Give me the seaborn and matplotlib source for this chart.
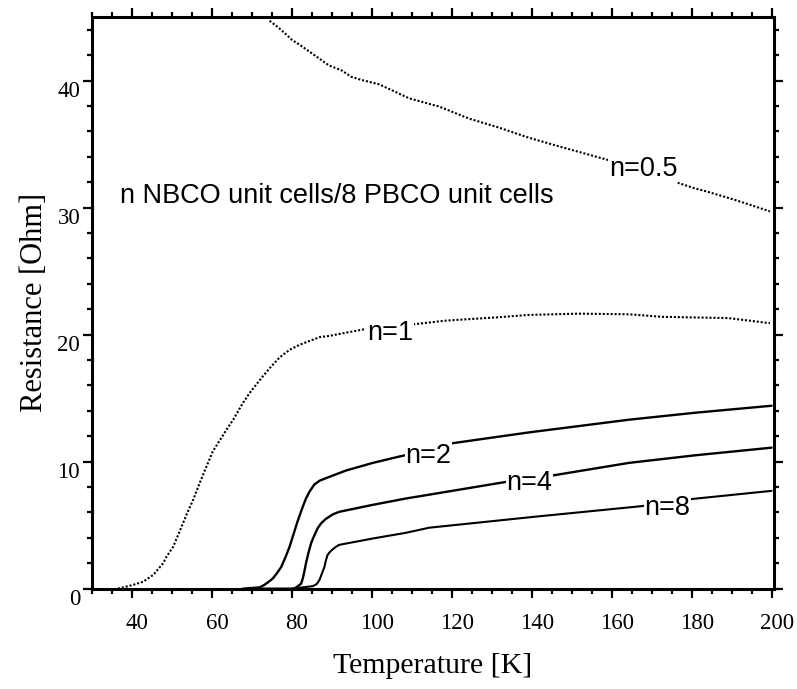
import matplotlib
matplotlib.use("Agg")
import matplotlib.pyplot as plt
import matplotlib.transforms as mtransforms
from matplotlib.ticker import MultipleLocator
import numpy as np
import pandas as pd
import seaborn as sns

# Resistance vs temperature for NBCO/PBCO superlattices
T_05 = [74.4, 76.5, 78.3, 80.0, 82.0, 83.8, 85.6, 89.2, 92.4, 94.8, 97.3, 99.3,
        101.8, 109.3, 116.8, 124.3, 131.7, 139.2, 147.5, 158.4, 167.8, 174.1,
        180.8, 183.3, 190.8, 199.5]
R_05 = [44.7, 44.2, 43.7, 43.2, 42.8, 42.4, 42.0, 41.2, 40.8, 40.3, 40.05, 39.9,
        39.7, 38.6, 37.95, 37.0, 36.3, 35.5, 34.75, 33.8, 33.05, 32.2,
        31.5, 31.3, 30.6, 29.7]

T_1 = [36.5, 40.3, 42.8, 45.3, 47.8, 48.6, 50.3, 51.9, 53.6, 55.3, 56.9, 58.6,
       60.2, 62.0, 63.6, 65.3, 67.7, 69.4, 71.9, 74.4, 76.9, 79.4, 81.9, 84.4,
       86.9, 89.4, 91.8, 97.7, 104.5, 110.1, 118.4, 130.9, 139.2, 151.7,
       164.2, 172.5, 180.8, 189.1, 199.5]
R_1 = [0.0, 0.3, 0.55, 1.08, 2.0, 2.5, 3.3, 4.5, 5.8, 7.0, 8.3, 9.6,
       10.8, 11.7, 12.5, 13.3, 14.6, 15.4, 16.4, 17.35, 18.2, 18.8, 19.2, 19.5,
       19.8, 19.9, 20.05, 20.4, 20.6, 20.8, 21.1, 21.35, 21.55, 21.65,
       21.6, 21.4, 21.35, 21.3, 20.9]

T_2 = [67.7, 71.9, 73.1, 74.0, 75.2, 76.2, 77.3, 78.4, 79.4, 80.4, 81.4, 82.7,
       83.5, 84.4, 85.6, 86.9, 88.5, 91.0, 93.5, 100.2, 106.8, 114.1, 120.1,
       139.2, 164.2, 180.8, 199.9]
R_2 = [0.0, 0.1, 0.3, 0.5, 0.8, 1.2, 1.7, 2.5, 3.3, 4.3, 5.3, 6.45,
       7.1, 7.65, 8.2, 8.5, 8.7, 9.0, 9.3, 9.9, 10.4, 10.9, 11.45,
       12.3, 13.3, 13.85, 14.4]

T_4 = [72.0, 80.5, 81.5, 82.3, 82.7, 83.1, 83.5, 84.1, 84.8, 85.6, 86.4, 87.3,
       88.5, 90.2, 91.8, 100.2, 108.5, 114.3, 133.4, 145.9, 164.2, 180.8, 199.9]
R_4 = [0.0, 0.0, 0.2, 0.4, 0.8, 1.35, 2.0, 2.8, 3.6, 4.2, 4.75, 5.15,
       5.5, 5.85, 6.05, 6.6, 7.1, 7.4, 8.4, 8.95, 9.9, 10.5, 11.1]

T_8 = [80.0, 85.2, 86.2, 86.9, 87.5, 88.1, 88.5, 88.9, 89.5, 90.2, 91.0, 91.8,
       100.2, 108.5, 114.3, 140.9, 167.5, 180.0, 199.9]
R_8 = [0.0, 0.2, 0.37, 0.7, 1.2, 1.7, 2.25, 2.65, 2.9, 3.1, 3.3, 3.45,
       3.95, 4.4, 4.8, 5.67, 6.5, 7.06, 7.7]

series_names = ["n=0.5", "n=1", "n=2", "n=4", "n=8"]
# inline label anchors (temperature, resistance at baseline)
label_T = [167.8, 104.5, 114.1, 139.4, 173.9]
label_R = [32.45, 19.6, 9.87, 7.77, 5.8]

x_ticks = [40, 60, 80, 100, 120, 140, 160, 180, 200]
y_ticks = [0, 10, 20, 30, 40]

frames = []
for name, t, r in zip(series_names, [T_05, T_1, T_2, T_4, T_8],
                      [R_05, R_1, R_2, R_4, R_8]):
    frames.append(pd.DataFrame({"T": t, "R": r, "sample": name}))
data = pd.concat(frames, ignore_index=True)

sns.set_theme(style="ticks")
plt.rcParams["font.family"] = ["Liberation Serif", "DejaVu Serif"]
plt.rcParams.update({
    "text.color": "black",
    "axes.labelcolor": "black",
    "xtick.color": "black",
    "ytick.color": "black",
    "xtick.labelcolor": "black",
    "ytick.labelcolor": "black",
})

fig = plt.figure(figsize=(7.97, 6.89), dpi=100)
ax = fig.add_axes([0.1154, 0.1456, 0.8557, 0.8297])

line_styles = {
    "n=0.5": dict(lw=1.5, ls=(0, (1.0, 0.9))),
    "n=1": dict(lw=1.5, ls=(0, (1.0, 0.9))),
    "n=2": dict(lw=1.7, ls="-"),
    "n=4": dict(lw=1.7, ls="-"),
    "n=8": dict(lw=1.5, ls="-"),
}
for name in series_names:
    sub = data[data["sample"] == name]
    sns.lineplot(data=sub, x="T", y="R", ax=ax, color="black",
                 estimator=None, sort=False, legend=False,
                 linewidth=line_styles[name]["lw"],
                 linestyle=line_styles[name]["ls"])

ax.set_xlim(30, 200.5)
ax.set_ylim(0, 45)
ax.set_xticks(x_ticks)
ax.set_yticks(y_ticks)
ax.xaxis.set_minor_locator(MultipleLocator(5))
ax.yaxis.set_minor_locator(MultipleLocator(2))

for side in ["left", "right", "top", "bottom"]:
    ax.spines[side].set_visible(True)
    ax.spines[side].set_linewidth(2.2)
    ax.spines[side].set_color("black")

ax.tick_params(which="both", direction="out", top=True, right=True,
               labeltop=False, labelright=False, color="black", width=1.6)
ax.tick_params(which="major", length=6.5)
ax.tick_params(which="minor", length=3.8)
ax.tick_params(axis="x", which="major", pad=11, labelsize=16.5, labelcolor="black")
ax.tick_params(axis="y", which="major", pad=2, labelsize=16.5, labelcolor="black")

# nudge tick labels like the original plotting package
dy = mtransforms.ScaledTranslation(0, -0.08, fig.dpi_scale_trans)
for lab in ax.get_yticklabels():
    lab.set_transform(lab.get_transform() + dy)
dx = mtransforms.ScaledTranslation(0.05, 0, fig.dpi_scale_trans)
for lab in ax.get_xticklabels():
    lab.set_transform(lab.get_transform() + dx)

ax.set_xlabel("Temperature [K]", fontsize=21.5, color="black")
ax.set_ylabel("Resistance [Ohm]", fontsize=22, color="black")
ax.xaxis.label.set_va("center")
ax.yaxis.label.set_va("center")
ax.xaxis.set_label_coords(0.5, -0.135)
ax.yaxis.set_label_coords(-0.084, 0.5)

sans = ["Liberation Sans", "DejaVu Sans"]
for name, tx, ry in zip(series_names, label_T, label_R):
    ax.text(tx, ry, name, ha="center", va="baseline", fontsize=19.5,
            family=sans, zorder=5, color="black",
            bbox=dict(facecolor="white", edgecolor="none", pad=0.5))

ax.text(37.0, 30.35, "n NBCO unit cells/8 PBCO unit cells", ha="left",
        va="baseline", fontsize=19.5, family=sans, color="black")

ax.grid(False)
ax.set_facecolor("white")
fig.savefig("out.png", dpi=100, facecolor="white")
